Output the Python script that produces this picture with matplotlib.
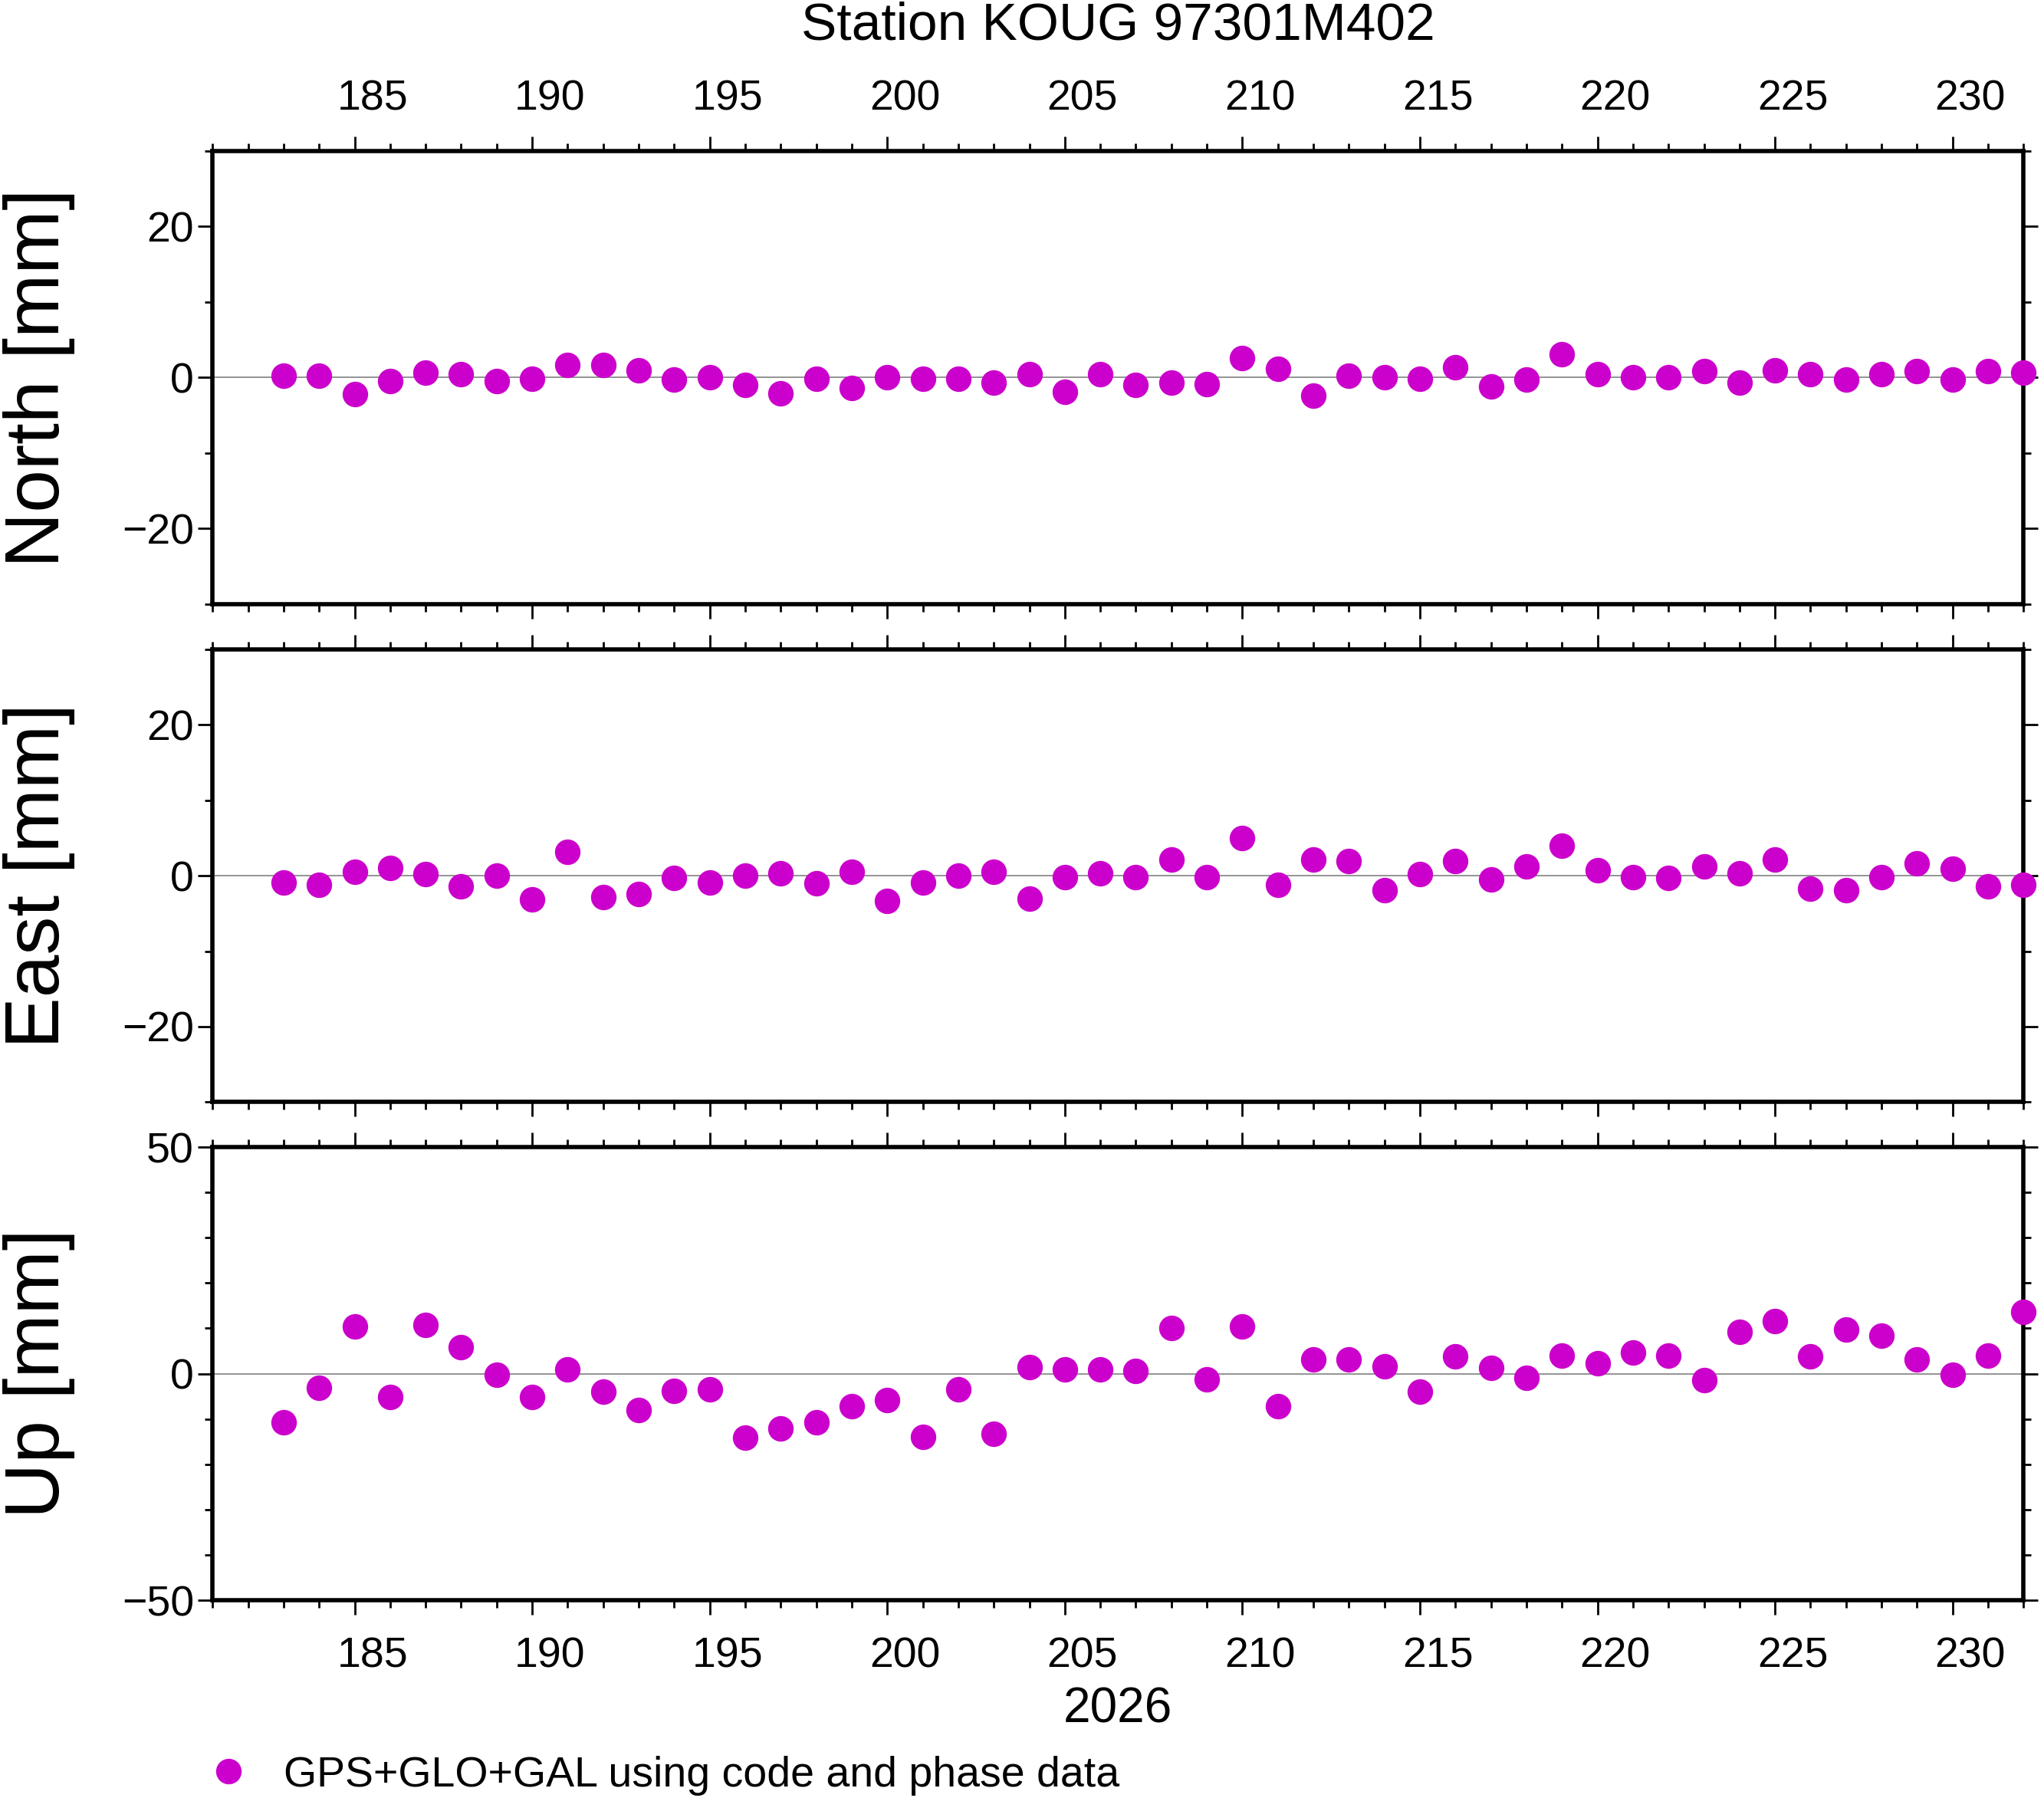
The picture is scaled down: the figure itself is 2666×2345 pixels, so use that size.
import numpy as np
import matplotlib
matplotlib.use("Agg")
from matplotlib import pyplot as plt
from matplotlib.lines import Line2D
from matplotlib.ticker import MultipleLocator

plt.rcParams['font.family'] = ['Liberation Sans', 'DejaVu Sans']

days = np.arange(183, 233)
north = [0.2, 0.2, -2.2, -0.5, 0.7, 0.5, -0.5, -0.2, 1.7, 1.7, 1.0, -0.3, 0.0, -1.0, -2.1,
         -0.2, -1.4, 0.0, -0.2, -0.2, -0.7, 0.5, -1.9, 0.5, -1.0, -0.7, -0.9, 2.6, 1.2, -2.4,
         0.2, 0.0, -0.2, 1.4, -1.2, -0.3, 3.1, 0.5, 0.0, 0.0, 0.9, -0.7, 1.0, 0.5, -0.3,
         0.5, 0.9, -0.3, 0.9, 0.7]
east = [-0.9, -1.2, 0.5, 1.0, 0.2, -1.4, 0.0, -3.1, 3.1, -2.8, -2.4, -0.3, -0.9, 0.0, 0.3,
        -1.0, 0.5, -3.3, -0.9, 0.0, 0.5, -3.0, -0.2, 0.3, -0.2, 2.1, -0.2, 5.0, -1.2, 2.1,
        1.9, -1.9, 0.2, 1.9, -0.5, 1.2, 4.0, 0.7, -0.2, -0.3, 1.2, 0.3, 2.1, -1.7, -1.9,
        -0.2, 1.6, 0.9, -1.4, -1.2]
up = [-10.7, -3.2, 10.4, -5.2, 10.7, 5.8, -0.3, -5.2, 0.9, -4.0, -8.1, -3.8, -3.5, -14.2,
      -12.1, -10.7, -7.2, -5.8, -13.9, -3.5, -13.3, 1.4, 0.9, 0.9, 0.6, 10.1, -1.2, 10.4,
      -7.2, 3.2, 3.2, 1.7, -4.0, 3.8, 1.2, -0.9, 4.0, 2.3, 4.6, 4.0, -1.4, 9.2, 11.6, 3.8,
      9.8, 8.4, 3.2, -0.3, 4.0, 13.6]
labels = ["North [mm]", "East [mm]", "Up [mm]"]
limits = [30, 30, 50]
majors = [20, 20, 50]
xticks = np.arange(185, 232, 5)

color = "#CC00CC"
fig = plt.figure(figsize=(26.66, 23.45), dpi=100)
bounds = [(0.664, 0.916), (0.387, 0.639), (0.110, 0.362)]

for i, (vals, lab, lim, maj) in enumerate(zip([north, east, up], labels, limits, majors)):
    b0, b1 = bounds[i]
    ax = fig.add_axes([0.104, b0, 0.886, b1 - b0])
    ax.axhline(0, color="gray", lw=1.2, zorder=1)
    ax.plot(days, vals, "o", color=color, ms=24, mec="none", zorder=3, clip_on=False)
    ax.set_xlim(181, 232)
    ax.set_ylim(-lim, lim)
    ax.yaxis.set_major_locator(MultipleLocator(maj))
    ax.yaxis.set_minor_locator(MultipleLocator(10))
    ax.set_xticks(xticks)
    ax.xaxis.set_minor_locator(MultipleLocator(1))
    ax.set_xticklabels([])
    ax.tick_params(which="both", direction="out", top=True, right=True, width=2, labelsize=40)
    ax.tick_params(which="major", length=14)
    ax.tick_params(which="minor", length=7)
    for s in ax.spines.values():
        s.set_linewidth(4)
    ax.set_ylabel(lab, fontsize=72)
    ax.yaxis.set_label_coords(-0.076, 0.5)
    trans = ax.get_xaxis_transform()
    if i == 0:
        for t in xticks:
            ax.text(t + 0.5, 1.07, str(t), transform=trans, ha="center", va="bottom", fontsize=40)
        ax.set_title("Station KOUG 97301M402", fontsize=50, pad=105)
    if i == 2:
        for t in xticks:
            ax.text(t + 0.5, -0.08, str(t), transform=trans, ha="center", va="top", fontsize=40)
        ax.text(206.5, -0.19, "2026", transform=trans, ha="center", va="top", fontsize=46)

h = Line2D([], [], ls="none", marker="o", ms=24, color=color, mec="none")
fig.legend([h], ["GPS+GLO+GAL using code and phase data"], loc="lower left",
           bbox_to_anchor=(0.072, -0.02), frameon=False, fontsize=40, handletextpad=0.3)

fig.savefig("out.png", dpi=100)
